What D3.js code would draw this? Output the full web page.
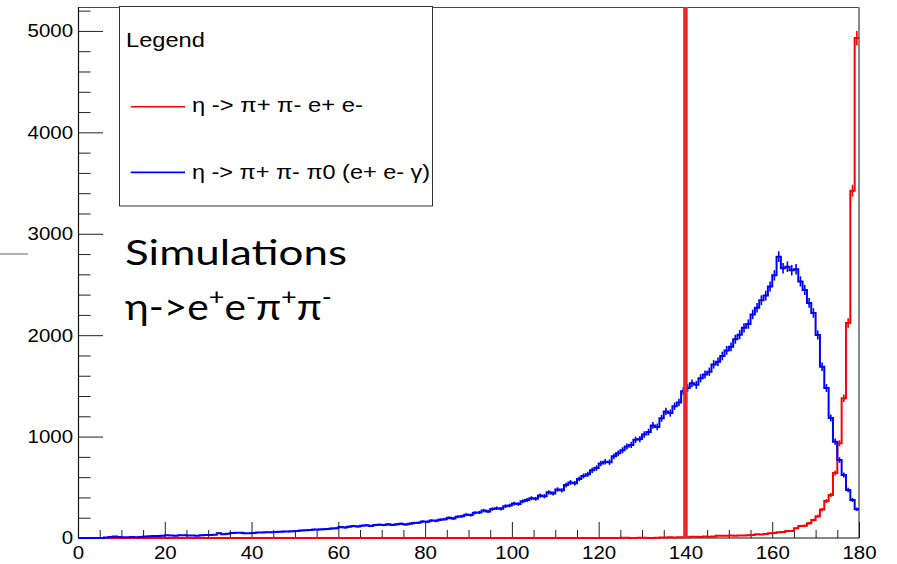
<!DOCTYPE html>
<html>
<head>
<meta charset="utf-8">
<script src="https://cdn.jsdelivr.net/npm/d3@7"></script>
<style>
  body { margin: 0; background: #fff; }
  svg { display: block; }
</style>
</head>
<body>
<svg id="chart" width="897" height="564"></svg>
<script>
// Histogram binning: 180 bins of width 1 over [0, 180]
const binLow = 0;
const binHigh = 180;
const binWidth = 1;

// eta -> pi+ pi- pi0 (e+ e- gamma): counts per bin
const blueCounts = [
  0, 0, 0, 0, 0, 0, 6, 9, 14, 10,
  8, 7, 9, 8, 11, 14, 18, 20, 19, 22,
  27, 25, 22, 28, 27, 24, 25, 23, 26, 30,
  29, 33, 48, 38, 42, 50, 52, 51, 47, 46,
  49, 54, 55, 57, 56, 60, 61, 63, 65, 66,
  68, 74, 77, 79, 83, 84, 86, 88, 93, 97,
  108, 104, 112, 118, 113, 122, 126, 119, 128, 131,
  127, 135, 129, 136, 140, 132, 141, 148, 150, 163,
  160, 172, 169, 181, 185, 199, 193, 210, 214, 230,
  226, 248, 252, 270, 262, 285, 294, 288, 314, 321,
  340, 335, 362, 374, 392, 386, 418, 412, 450, 440,
  478, 470, 522, 548, 540, 583, 612, 628, 668, 690,
  735, 752, 748, 805, 835, 866, 902, 918, 968, 975,
  1020, 1045, 1110, 1095, 1180, 1248, 1232, 1300, 1336, 1448,
  1480, 1525, 1510, 1575, 1612, 1640, 1712, 1738, 1795, 1850,
  1885, 1960, 2005, 2072, 2110, 2205, 2270, 2345, 2390, 2480,
  2590, 2774, 2660, 2675, 2640, 2650, 2530, 2446, 2318, 2219,
  2002, 1689, 1479, 1183, 950, 769, 621, 473, 375, 283
];

// eta -> pi+ pi- e+ e-: counts per bin (empty below 125)
const redCounts = [
  ...new Array(125).fill(0),
  2, 3, 1, 0, 3, 2, 0, 1, 3, 4,
  6, 7, 5, 8, 7, 8, 12, 13, 11, 14,
  13, 15, 21, 23, 22, 24, 23, 25, 24, 26,
  30, 36, 35, 40, 46, 50, 56, 60, 69, 70,
  95, 118, 120, 145, 177, 215, 280, 365, 424, 641,
  934, 1378, 2120, 3425, 4930
];

const cutValue = 140;

const xMajorTicks = [0, 20, 40, 60, 80, 100, 120, 140, 160, 180];
const xMinorStep = 5;
const yMajorTicks = [0, 1000, 2000, 3000, 4000, 5000];
const yMinorStep = 200;
const yTop = 5236;

const legendTitle = "Legend";
const legendEntries = [
  { label: "η -> π+ π- e+ e-", color: "#ff0000" },
  { label: "η -> π+ π- π0 (e+ e- γ)", color: "#0000ff" }
];

const noteLine1 = "Simulations";
// second note line: [text, isSuperscript]
const noteLine2 = [["η->e", false], ["+", true], ["e", false], ["-", true],
                   ["π", false], ["+", true], ["π", false], ["-", true]];

// ---------------------------------------------------------------
const svg = d3.select("#chart");
const plot = { left: 78, right: 859, top: 7, bottom: 538 };

const x = d3.scaleLinear().domain([binLow, binHigh]).range([plot.left, plot.right]);
const y = d3.scaleLinear().domain([0, yTop]).range([plot.bottom, plot.top]);

const tickFont = "'Liberation Sans', Arial, Helvetica, sans-serif";
const stretch = 1.1;

// stray guide mark at the far left
svg.append("line")
  .attr("x1", 0).attr("x2", 28).attr("y1", 254).attr("y2", 254)
  .attr("stroke", "#999").attr("stroke-width", 1.5);

// frame (top and right)
svg.append("line")
  .attr("x1", plot.left).attr("x2", plot.right).attr("y1", plot.top + 0.5).attr("y2", plot.top + 0.5)
  .attr("stroke", "#444").attr("stroke-width", 1);
svg.append("line")
  .attr("x1", plot.right).attr("x2", plot.right).attr("y1", plot.top).attr("y2", plot.bottom)
  .attr("stroke", "#888").attr("stroke-width", 2);

// axes
function styleAxis(g) {
  g.select(".domain").remove();
  g.selectAll(".tick line").attr("stroke", "#222").attr("stroke-width", 1);
}

const xMinor = d3.range(binLow, binHigh + 0.001, xMinorStep).filter(v => !xMajorTicks.includes(v));
svg.append("g")
  .attr("transform", `translate(0,${plot.bottom})`)
  .call(d3.axisBottom(x).tickValues(xMinor).tickSize(-8).tickFormat(""))
  .call(styleAxis);

const gx = svg.append("g")
  .attr("transform", `translate(0,${plot.bottom})`)
  .call(d3.axisBottom(x).tickValues(xMajorTicks).tickSize(-16).tickPadding(8).tickFormat(d3.format("d")))
  .call(styleAxis);
gx.selectAll(".tick text")
  .attr("font-family", tickFont).attr("font-size", "18.6px").attr("fill", "#000")
  .attr("transform", `scale(${stretch},1)`);

const yMinor = d3.range(0, yTop, yMinorStep).filter(v => !yMajorTicks.includes(v));
svg.append("g")
  .attr("transform", `translate(${plot.left},0)`)
  .call(d3.axisLeft(y).tickValues(yMinor).tickSize(-12.5).tickFormat(""))
  .call(styleAxis);

const gy = svg.append("g")
  .attr("transform", `translate(${plot.left},0)`)
  .call(d3.axisLeft(y).tickValues(yMajorTicks).tickSize(-25).tickPadding(4.5).tickFormat(d3.format("d")))
  .call(styleAxis);
gy.selectAll(".tick text")
  .attr("font-family", tickFont).attr("font-size", "18.6px").attr("fill", "#000")
  .attr("transform", `scale(${stretch},1)`);

// axis lines
svg.append("line")
  .attr("x1", plot.left + 0.5).attr("x2", plot.left + 0.5).attr("y1", plot.top).attr("y2", plot.bottom)
  .attr("stroke", "#111").attr("stroke-width", 1.2);
svg.append("line")
  .attr("x1", plot.left).attr("x2", plot.right).attr("y1", plot.bottom).attr("y2", plot.bottom)
  .attr("stroke", "#111").attr("stroke-width", 1.2);

// histogram step outline plus sqrt(N) error bars
function drawHist(counts, color) {
  const bins = counts.map((c, i) => ({ lo: binLow + i * binWidth, hi: binLow + (i + 1) * binWidth, c }));
  const pts = [];
  bins.forEach(b => { pts.push([b.lo, b.c]); pts.push([b.hi, b.c]); });
  const line = d3.line().x(d => x(d[0])).y(d => y(d[1]));
  svg.append("path")
    .attr("d", line(pts))
    .attr("fill", "none").attr("stroke", color).attr("stroke-width", 2)
    .attr("stroke-linejoin", "miter");
  svg.append("g").selectAll("line")
    .data(bins.filter(b => b.c > 0))
    .join("line")
    .attr("x1", b => x((b.lo + b.hi) / 2)).attr("x2", b => x((b.lo + b.hi) / 2))
    .attr("y1", b => y(b.c + Math.sqrt(b.c))).attr("y2", b => y(Math.max(0, b.c - Math.sqrt(b.c))))
    .attr("stroke", color).attr("stroke-width", 1.6);
}
drawHist(redCounts, "#ff0000");
drawHist(blueCounts, "#0000ff");

// cut line
svg.append("line")
  .attr("x1", x(cutValue)).attr("x2", x(cutValue))
  .attr("y1", y(yTop)).attr("y2", y(0))
  .attr("stroke", "#f0232b").attr("stroke-width", 4.5);

// fit a text element to a width by horizontal scaling
function placeText(sel, px, py, width) {
  const w = sel.node().getComputedTextLength();
  sel.attr("transform", `translate(${px},${py}) scale(${width / w},1)`);
}

// legend
const legend = svg.append("g");
legend.append("rect")
  .attr("x", 119.5).attr("y", 6.5).attr("width", 313).attr("height", 199.5)
  .attr("fill", "#fff").attr("stroke", "#333").attr("stroke-width", 1);
const lt = legend.append("text").text(legendTitle)
  .attr("font-family", tickFont).attr("font-size", "21px").attr("fill", "#000");
placeText(lt, 126, 47, 79);

const entryRows = [{ yLine: 106.7, yBase: 112, width: 171 }, { yLine: 172.4, yBase: 178.5, width: 238 }];
legendEntries.forEach((e, i) => {
  const r = entryRows[i];
  legend.append("line")
    .attr("x1", 130.7).attr("x2", 185).attr("y1", r.yLine).attr("y2", r.yLine)
    .attr("stroke", e.color).attr("stroke-width", 1.6);
  const t = legend.append("text").text(e.label)
    .attr("font-family", tickFont).attr("font-size", "21px").attr("fill", "#000");
  placeText(t, 192, r.yBase, r.width);
});

// annotation
const noteFont = "Lato, 'Open Sans', sans-serif";
const n1 = svg.append("text").text(noteLine1)
  .attr("font-family", noteFont).attr("font-size", "35px").attr("fill", "#000");
placeText(n1, 125, 265, 222);

const n2 = svg.append("text")
  .attr("font-family", noteFont).attr("font-size", "36px").attr("fill", "#000");
let raised = false;
noteLine2.forEach(([s, sup]) => {
  const ts = n2.append("tspan").text(s);
  if (sup && !raised) { ts.attr("dy", -15).attr("font-size", "24px"); raised = true; }
  else if (sup) { ts.attr("font-size", "24px"); }
  else if (!sup && raised) { ts.attr("dy", 15); raised = false; }
});
placeText(n2, 125, 320, 207);
</script>
</body>
</html>
